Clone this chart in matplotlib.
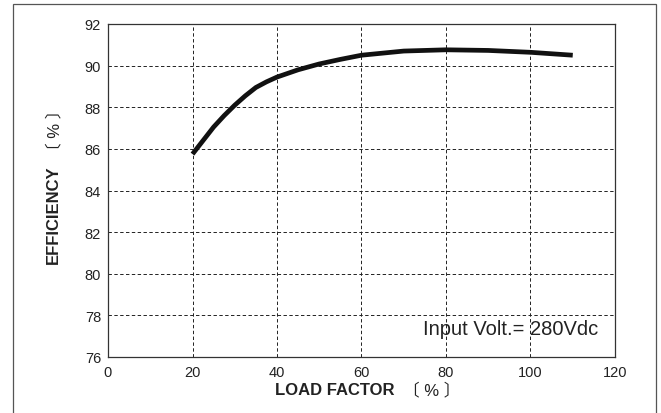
import matplotlib
matplotlib.use("Agg")
from matplotlib import pyplot as plt
from matplotlib.patches import Rectangle

# efficiency curve
load = [20, 22.5, 25, 27.5, 30, 32.5, 35, 37.5, 40, 45, 50, 55, 60, 70, 80, 90, 100, 110]
efficiency = [85.75, 86.4, 87.05, 87.6, 88.1, 88.55, 88.95, 89.22, 89.45, 89.8, 90.08, 90.3,
              90.5, 90.7, 90.76, 90.73, 90.64, 90.5]

x_ticks = [0, 20, 40, 60, 80, 100, 120]
y_ticks = [76, 78, 80, 82, 84, 86, 88, 90, 92]

plt.rcParams['font.family'] = ['Liberation Sans', 'Noto Sans CJK JP', 'DejaVu Sans']

fig = plt.figure(figsize=(6.61, 4.14), dpi=100)
ax = fig.add_axes([108 / 661, 56 / 414, 507 / 661, 333 / 414])

# outer frame round the whole chart
fig.patches.append(Rectangle((13 / 661, -0.02), 643 / 661, 1.0 - 5 / 414 + 0.02,
                             transform=fig.transFigure, fill=False,
                             edgecolor='#555555', linewidth=0.9))

ax.plot(load, efficiency, color='#111111', linewidth=3.4, solid_capstyle='butt')

ax.set_xlim(0, 120)
ax.set_ylim(76, 92)
ax.set_xticks(x_ticks)
ax.set_yticks(y_ticks)
ax.tick_params(length=0, labelsize=10.5, colors='#222222', pad=5)
ax.tick_params(axis='x', pad=6)

ax.grid(True, color='#222222', linestyle=(0, (3.5, 2.5)), linewidth=0.7)
for s in ax.spines.values():
    s.set_color('#333333')
    s.set_linewidth(0.9)

ax.text(0.966, 0.087, 'Input Volt.= 280Vdc', transform=ax.transAxes,
        ha='right', va='center', fontsize=14.5, color='#222222')

# axis labels: bold words, plain brackets
fig.text(335 / 661, 1 - 391 / 414, 'LOAD FACTOR', ha='center', va='center',
         fontsize=12, fontweight='bold', color='#222222')
fig.text(432 / 661, 1 - 390 / 414, '〔 % 〕', ha='center', va='center',
         fontsize=12, color='#222222')
fig.text(53 / 661, 1 - 215 / 414, 'EFFICIENCY', ha='center', va='center',
         rotation=90, fontsize=12, fontweight='bold', color='#222222')
fig.text(54 / 661, 1 - 130 / 414, '〔 % 〕', ha='center', va='center',
         rotation=90, fontsize=12, color='#222222')

fig.savefig('out.png', dpi=100)
